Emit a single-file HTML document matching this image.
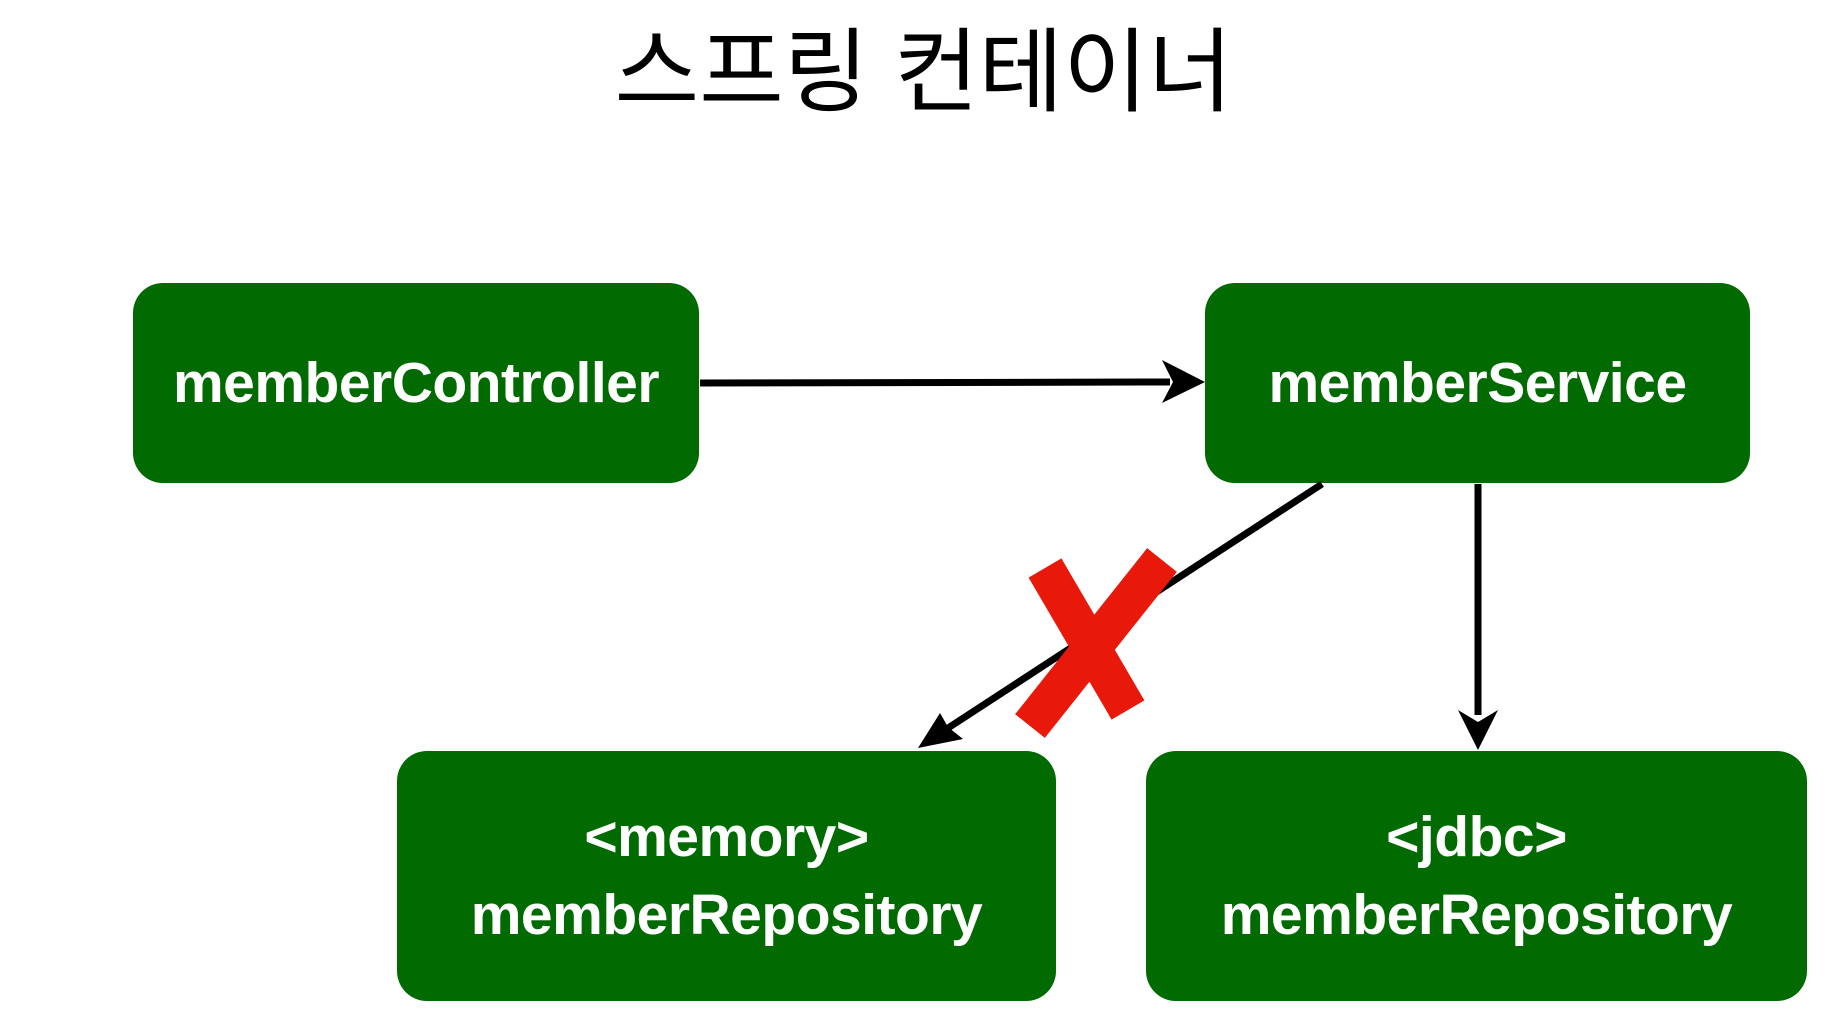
<!DOCTYPE html>
<html><head><meta charset="utf-8"><style>
html,body{margin:0;padding:0;background:#fff;}
body{width:1847px;height:1032px;position:relative;overflow:hidden;font-family:"Liberation Sans",Arial,sans-serif;}
.t{position:absolute;left:0;width:1847px;top:18px;text-align:center;font-family:"Liberation Sans","Noto Sans CJK KR","NanumGothic",sans-serif;font-size:92px;color:#000;font-weight:400;line-height:110px;}
.b{position:absolute;background:#016b02;border-radius:30px;color:#fff;font-weight:bold;font-size:57px;display:flex;align-items:center;justify-content:center;text-align:center;line-height:78px;letter-spacing:-0.5px;}
</style></head><body>
<div class="t">스프링 컨테이너</div>
<div class="b" style="left:133px;top:283px;width:566px;height:200px;">memberController</div>
<div class="b" style="left:1205px;top:283px;width:545px;height:200px;">memberService</div>
<div class="b" style="left:397px;top:751px;width:659px;height:250px;">&lt;memory&gt;<br>memberRepository</div>
<div class="b" style="left:1146px;top:751px;width:661px;height:250px;">&lt;jdbc&gt;<br>memberRepository</div>
<svg width="1847" height="1032" style="position:absolute;left:0;top:0">
<g stroke="#000" stroke-width="7" fill="none">
<line x1="700" y1="383" x2="1170" y2="382"/>
<line x1="1322" y1="484" x2="945" y2="730"/>
<line x1="1478" y1="484" x2="1478" y2="715"/>
</g>
<polygon points="1205,382 1162,360 1173,382 1162,403" fill="#000"/>
<polygon points="918,748 940,713 948,727 963,739" fill="#000"/>
<polygon points="1478,750 1458,710 1478,722 1498,710" fill="#000"/>
<g stroke="#e8190b" stroke-width="38" stroke-linecap="butt">
<line x1="1045" y1="568" x2="1128" y2="710"/>
<line x1="1162" y1="560" x2="1030" y2="726"/>
</g>
</svg>
</body></html>
